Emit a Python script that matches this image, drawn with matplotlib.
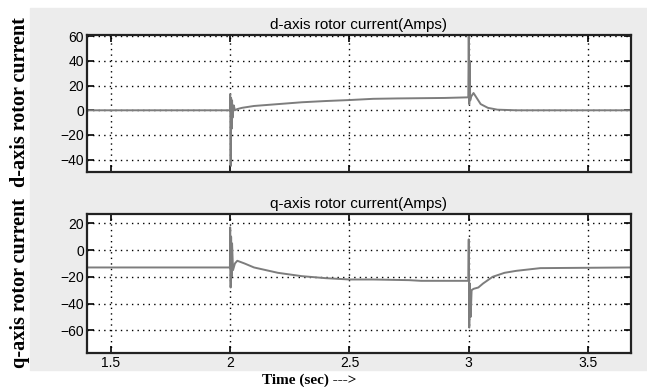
import matplotlib

matplotlib.use("Agg")
import matplotlib.pyplot as plt
from matplotlib.patches import Rectangle

# d-axis rotor current (Amps)
t_d = [1.40, 1.999, 2.000, 2.002, 2.004, 2.006, 2.008, 2.010, 2.015, 2.020,
       2.030, 2.050, 2.100, 2.200, 2.300, 2.400, 2.500, 2.600, 2.700, 2.800,
       2.900, 2.998, 3.000, 3.002, 3.004, 3.006, 3.010, 3.020, 3.030, 3.050,
       3.080, 3.120, 3.200, 3.680]
i_d = [0, 0, 13, -45, 10, -15, 8, -6, 4, 0,
       1, 2, 3.5, 5, 6.5, 7.5, 8.3, 9.3, 9.6, 9.8,
       10, 10.5, 60, 5, 40, 8, 11, 14, 11, 5,
       2, 0.5, 0, 0]

# q-axis rotor current (Amps)
t_q = [1.40, 1.999, 2.000, 2.002, 2.004, 2.006, 2.008, 2.012, 2.020, 2.030,
       2.060, 2.100, 2.200, 2.300, 2.400, 2.500, 2.600, 2.750, 2.800, 2.900,
       2.998, 3.000, 3.002, 3.005, 3.008, 3.012, 3.020, 3.040, 3.060, 3.100,
       3.150, 3.200, 3.300, 3.680]
i_q = [-13, -13, 17, -28, 10, -20, 5, -15, -10, -8,
       -10, -13, -17, -19.5, -21, -22, -22, -22.5, -23, -23,
       -23, 8, -58, -25, -50, -30, -29, -28, -25, -20,
       -17, -15.5, -13.5, -13]

x_ticks = [1.5, 2, 2.5, 3, 3.5]
d_ticks = [-40, -20, 0, 20, 40, 60]
q_ticks = [-60, -40, -20, 0, 20]

fig = plt.figure(figsize=(6.47, 3.87), dpi=100)
# light grey panel behind the two plots
fig.patches.append(Rectangle((30 / 647, 1 - 370 / 387), 617 / 647, 362 / 387,
                             transform=fig.transFigure, color="#ececec", zorder=-5))

ax1 = fig.add_axes([87 / 647, 1 - 172 / 387, 544 / 647, 137 / 387])
ax2 = fig.add_axes([87 / 647, 1 - 353 / 387, 544 / 647, 139 / 387])


def style(ax, yticks, ylim, title):
    ax.set_facecolor("white")
    ax.set_xlim(1.4, 3.68)
    ax.set_ylim(*ylim)
    ax.set_xticks(x_ticks)
    ax.set_yticks(yticks)
    ax.grid(True, color="black", linestyle=(0, (1, 3)), linewidth=1.0)
    ax.tick_params(direction="in", length=5, width=1.2, top=True, right=True,
                   labelsize=10, colors="black", pad=2)
    for s in ax.spines.values():
        s.set_linewidth(1.6)
        s.set_color("#222222")
    ax.set_title(title, fontsize=11, family="Liberation Sans", pad=4)
    for lab in ax.get_xticklabels() + ax.get_yticklabels():
        lab.set_family("Liberation Sans")


ax1.plot(t_d, i_d, color="#7d7d7d", linewidth=1.4)
style(ax1, d_ticks, (-50, 61), "d-axis rotor current(Amps)")
ax1.set_xticklabels([])

ax2.plot(t_q, i_q, color="#7d7d7d", linewidth=1.4)
style(ax2, q_ticks, (-77, 27), "q-axis rotor current(Amps)")
ax2.set_xticklabels(["1.5", "2", "2.5", "3", "3.5"])

fig.text(20 / 647, 1 - 102 / 387, "d-axis rotor current", rotation=90,
         ha="center", va="center", fontsize=14.5, fontweight="bold",
         family="Liberation Serif")
fig.text(20 / 647, 1 - 283 / 387, "q-axis rotor current", rotation=90,
         ha="center", va="center", fontsize=14.5, fontweight="bold",
         family="Liberation Serif")
fig.text(262 / 647, 0, "Time (sec) --->", ha="left", va="bottom",
         fontsize=11, fontweight="bold", family="Liberation Serif")

plt.savefig("out.png", dpi=100)
plt.close(fig)
